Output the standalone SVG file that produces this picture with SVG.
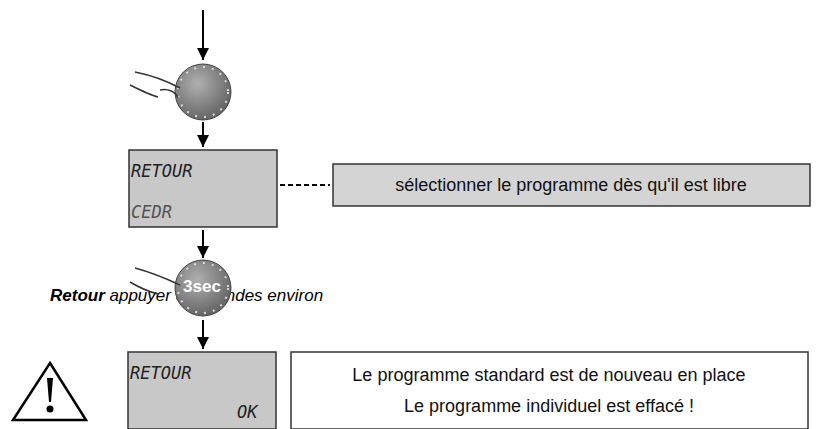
<svg xmlns="http://www.w3.org/2000/svg" width="829" height="429" viewBox="0 0 829 429">
<defs>
<marker id="ah" markerWidth="12" markerHeight="12" refX="12" refY="6" orient="auto" markerUnits="userSpaceOnUse"><path d="M0,0 L12,6 L0,12 Z" fill="#000"/></marker>
<radialGradient id="kg" cx="0.4" cy="0.35" r="0.7"><stop offset="0" stop-color="#b0b0b0"/><stop offset="1" stop-color="#606060"/></radialGradient>
</defs>
<style>
.lcd{fill:#c8c8c8;stroke:#333;stroke-width:1.5}
.lt{font-family:"DejaVu Sans Mono",monospace;font-size:17px;fill:#222;font-style:italic}
.t{font-family:"Liberation Sans",sans-serif;font-size:18px;fill:#111}
.ar{stroke:#000;stroke-width:2;marker-end:url(#ah)}
.knob{fill:url(#kg);stroke:#444;stroke-width:1}
.dots{fill:none;stroke:#ddd;stroke-width:2;stroke-dasharray:2 7}
.hand{fill:none;stroke:#333;stroke-width:1.5}
</style>
<rect width="829" height="429" fill="#fff"/>
<g id="connectors">
<line class="ar" x1="203" y1="10" x2="203" y2="60"/>
<line class="ar" x1="203" y1="122" x2="203" y2="147"/>
<line class="ar" x1="203" y1="230" x2="203" y2="258"/>
<line class="ar" x1="203" y1="320" x2="203" y2="349"/>
<line x1="280" y1="185" x2="330" y2="185" stroke="#000" stroke-width="2" stroke-dasharray="5 3"/>
</g>
<g id="label">
<text x="50" y="301" font-family="Liberation Sans,sans-serif" font-size="17" font-style="italic"><tspan font-weight="bold">Retour</tspan> appuyer 3 secondes environ</text>
</g>
<g id="knob1">
<circle class="knob" cx="203" cy="92" r="28"/>
<circle class="dots" cx="203" cy="92" r="25"/>
<path class="hand" d="M135,72 C150,75 165,80 180,88 M130,85 C140,90 150,95 158,97 M160,90 C168,88 176,92 178,98"/>
</g>
<g id="lcd1">
<rect class="lcd" x="129" y="150" width="148" height="77"/>
<text class="lt" x="131" y="177">RETOUR</text>
<text class="lt" x="131" y="218" fill="#666" opacity="0.7">CEDR</text>
</g>
<g id="box1">
<rect x="333" y="164" width="477" height="42" fill="#d4d4d4" stroke="#333" stroke-width="1.5"/>
<text class="t" x="571" y="191" text-anchor="middle">sélectionner le programme dès qu'il est libre</text>
</g>
<g id="knob2">
<circle class="knob" cx="203" cy="288" r="28"/>
<circle class="dots" cx="203" cy="288" r="25"/>
<path class="hand" d="M135,268 C150,272 165,278 180,285 M130,282 C140,288 150,292 158,294"/>
<text x="202" y="292" text-anchor="middle" font-family="Liberation Sans,sans-serif" font-size="17" font-weight="bold" fill="#fff">3sec</text>
</g>
<g id="lcd2">
<rect class="lcd" x="128" y="352" width="148" height="77"/>
<text class="lt" x="130" y="379">RETOUR</text>
<text class="lt" x="237" y="418">OK</text>
</g>
<g id="box2">
<rect x="291" y="352" width="517" height="77" fill="#fff" stroke="#333" stroke-width="1.5"/>
<text class="t" x="549" y="381" text-anchor="middle">Le programme standard est de nouveau en place</text>
<text class="t" x="549" y="412" text-anchor="middle">Le programme individuel est effacé !</text>
</g>
<g id="warning">
<path d="M50,363 L86,420 L13,420 Z" fill="#fff" stroke="#000" stroke-width="2.5"/>
<path d="M47,378 L53,378 L51,402 L49,402 Z" fill="#000"/>
<circle cx="50" cy="409" r="3.5" fill="#000"/>
</g>
</svg>
